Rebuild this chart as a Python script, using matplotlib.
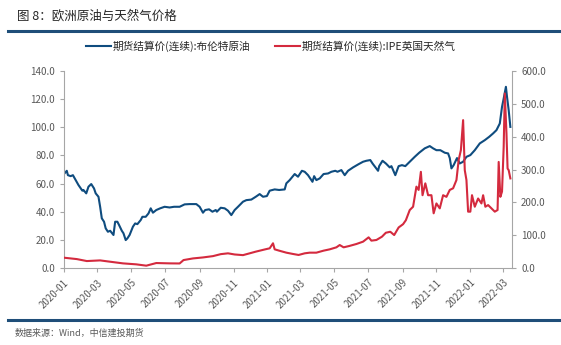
import matplotlib
matplotlib.use("Agg")
import matplotlib.pyplot as plt
import matplotlib.dates as mdates
from matplotlib.lines import Line2D
from matplotlib.ticker import FuncFormatter
import pandas as pd

plt.rcParams['font.family'] = ['Noto Sans CJK SC', 'DejaVu Sans']

# Brent futures settlement (USD/bbl), left axis
brent_dates = [
  "2020-01-02", "2020-01-06", "2020-01-08", "2020-01-13", "2020-01-17", "2020-01-22",
  "2020-01-27", "2020-02-03", "2020-02-05", "2020-02-10", "2020-02-14", "2020-02-19",
  "2020-02-24", "2020-02-27", "2020-03-03", "2020-03-06", "2020-03-09", "2020-03-13",
  "2020-03-16", "2020-03-20", "2020-03-24", "2020-03-30", "2020-04-02", "2020-04-06",
  "2020-04-09", "2020-04-14", "2020-04-17", "2020-04-21", "2020-04-24", "2020-04-28",
  "2020-05-04", "2020-05-08", "2020-05-12", "2020-05-18", "2020-05-21", "2020-05-27",
  "2020-06-01", "2020-06-05", "2020-06-09", "2020-06-15", "2020-06-22", "2020-06-30",
  "2020-07-09", "2020-07-17", "2020-07-27", "2020-08-05", "2020-08-14", "2020-08-26",
  "2020-09-01", "2020-09-07", "2020-09-11", "2020-09-18", "2020-09-24", "2020-09-30",
  "2020-10-02", "2020-10-09", "2020-10-16", "2020-10-22", "2020-10-28", "2020-11-03",
  "2020-11-09", "2020-11-18", "2020-11-24", "2020-12-03", "2020-12-11", "2020-12-18",
  "2020-12-24", "2020-12-31", "2021-01-05", "2021-01-14", "2021-01-22", "2021-02-01",
  "2021-02-04", "2021-02-10", "2021-02-19", "2021-02-25", "2021-03-04", "2021-03-09",
  "2021-03-15", "2021-03-23", "2021-03-26", "2021-03-30", "2021-04-05", "2021-04-12",
  "2021-04-20", "2021-04-26", "2021-05-03", "2021-05-07", "2021-05-14", "2021-05-20",
  "2021-05-26", "2021-06-04", "2021-06-14", "2021-06-22", "2021-06-28", "2021-07-05",
  "2021-07-09", "2021-07-19", "2021-07-21", "2021-07-27", "2021-08-02", "2021-08-09",
  "2021-08-12", "2021-08-19", "2021-08-25", "2021-08-31", "2021-09-06", "2021-09-14",
  "2021-09-23", "2021-10-01", "2021-10-11", "2021-10-20", "2021-10-26", "2021-11-01",
  "2021-11-08", "2021-11-16", "2021-11-22", "2021-11-25", "2021-11-28", "2021-12-02",
  "2021-12-08", "2021-12-13", "2021-12-19", "2021-12-25", "2022-01-01", "2022-01-09",
  "2022-01-18", "2022-01-27", "2022-02-04", "2022-02-11", "2022-02-17", "2022-02-23",
  "2022-02-27", "2022-03-02", "2022-03-06", "2022-03-08", "2022-03-11", "2022-03-14",
]
brent_values = [
  67.3, 69.1, 66.0, 65.3, 66.0, 62.5,
  59.0, 55.0, 55.5, 53.1, 57.8, 59.7,
  56.6, 53.1, 50.7, 43.6, 35.4, 33.0,
  28.3, 25.9, 26.6, 23.6, 33.0, 33.0,
  30.7, 26.6, 24.8, 20.0, 21.2, 23.6,
  29.5, 31.8, 31.3, 34.2, 36.5, 36.5,
  38.9, 42.5, 39.4, 41.3, 42.5, 43.6,
  43.1, 43.6, 43.6, 45.3, 45.5, 45.5,
  43.6, 39.4, 41.3, 41.8, 40.1, 41.3,
  40.1, 42.9, 42.5, 40.8, 37.7, 41.3,
  43.6, 47.2, 48.3, 48.7, 50.7, 52.6,
  50.7, 51.2, 55.0, 55.9, 55.5, 55.9,
  60.2, 62.5, 66.8, 64.9, 69.1, 68.4,
  66.0, 61.3, 65.3, 62.5, 63.7, 66.8,
  67.2, 68.4, 69.1, 68.4, 69.6, 66.0,
  69.1, 71.5, 73.8, 75.5, 76.2, 76.7,
  74.3, 69.1, 72.4, 76.2, 74.3, 71.5,
  72.4, 66.0, 72.4, 73.1, 72.4, 75.5,
  79.0, 81.9, 85.0, 86.6, 85.0, 83.7,
  83.7, 81.9, 81.4, 78.1, 70.8, 73.1,
  78.1, 74.3, 75.5, 79.0, 80.2, 83.7,
  88.5, 90.8, 93.2, 95.6, 97.9, 102.6,
  114.4, 120.3, 128.6, 121.5, 112.0, 100.2,
]

# IPE UK natural gas futures settlement, right axis
gas_dates = [
  "2020-01-02", "2020-01-24", "2020-02-11", "2020-03-06", "2020-03-24", "2020-04-16",
  "2020-05-10", "2020-05-28", "2020-06-15", "2020-07-09", "2020-07-27", "2020-08-03",
  "2020-08-20", "2020-09-07", "2020-09-25", "2020-10-09", "2020-10-22", "2020-11-03",
  "2020-11-18", "2020-11-30", "2020-12-11", "2020-12-28", "2021-01-05", "2021-01-11",
  "2021-01-14", "2021-01-22", "2021-02-04", "2021-02-16", "2021-02-26", "2021-03-09",
  "2021-03-18", "2021-03-30", "2021-04-12", "2021-04-23", "2021-05-05", "2021-05-11",
  "2021-05-18", "2021-05-28", "2021-06-10", "2021-06-22", "2021-07-02", "2021-07-07",
  "2021-07-16", "2021-07-26", "2021-08-02", "2021-08-10", "2021-08-17", "2021-08-25",
  "2021-09-02", "2021-09-07", "2021-09-14", "2021-09-20", "2021-09-26", "2021-09-30",
  "2021-10-04", "2021-10-07", "2021-10-12", "2021-10-17", "2021-10-23", "2021-10-27",
  "2021-11-01", "2021-11-07", "2021-11-13", "2021-11-19", "2021-11-25", "2021-12-01",
  "2021-12-07", "2021-12-11", "2021-12-15", "2021-12-19", "2021-12-22", "2021-12-25",
  "2021-12-28", "2022-01-01", "2022-01-04", "2022-01-09", "2022-01-15", "2022-01-21",
  "2022-01-24", "2022-01-28", "2022-02-02", "2022-02-08", "2022-02-14", "2022-02-19",
  "2022-02-21", "2022-02-24", "2022-02-27", "2022-03-02", "2022-03-04", "2022-03-07",
  "2022-03-09", "2022-03-11", "2022-03-14",
]
gas_values = [
  32, 28, 22, 24, 20, 15,
  12, 8, 16, 15, 14.7, 25,
  30, 33, 37, 43, 45.5, 42,
  40, 45.5, 50.6, 57.6, 60.7, 76,
  57.6, 53.6, 47.5, 43.5, 40.5, 45.5,
  47.5, 47.5, 53.6, 57.6, 63.7, 70.7,
  63.7, 67.7, 73.8, 80.9, 94, 84,
  86, 96, 108, 111, 101, 124,
  134, 146, 177, 187, 248, 238,
  293, 222, 258, 222, 222, 167,
  197, 182, 222, 217, 238, 243,
  268, 329, 359, 450, 298, 268,
  172, 172, 222, 187, 212, 197,
  222, 187, 192, 182, 172, 177,
  323, 217, 233, 369, 531, 410,
  303, 298, 273,
]

BLUE = "#0f4c7f"
RED = "#d42a3e"
GRAY_TXT = "#595959"
SPINE = "#a6a6a6"
NAVY = "#1f4e79"

fig = plt.figure(figsize=(5.61, 3.45), dpi=100)
ax = fig.add_axes([0.1141, 0.2223, 0.7986, 0.5727])
ax2 = ax.twinx()

ax.plot(pd.to_datetime(brent_dates), brent_values, color=BLUE, lw=1.5,
        label="期货结算价(连续):布伦特原油")
ax2.plot(pd.to_datetime(gas_dates), gas_values, color=RED, lw=1.5,
         label="期货结算价(连续):IPE英国天然气")

ax.set_xlim(pd.Timestamp("2020-01-01"), pd.Timestamp("2022-03-17"))
ax.set_ylim(0, 140)
ax2.set_ylim(0, 600)
ax.set_yticks(range(0, 141, 20))
ax2.set_yticks(range(0, 601, 100))
fmt = FuncFormatter(lambda v, p: f"{v:.1f}")
ax.yaxis.set_major_formatter(fmt)
ax2.yaxis.set_major_formatter(fmt)

ax.xaxis.set_major_locator(mdates.MonthLocator(bymonth=[1, 3, 5, 7, 9, 11]))
ax.xaxis.set_major_formatter(mdates.DateFormatter("%Y-%m"))
for lbl in ax.get_xticklabels():
  lbl.set_rotation(45)
  lbl.set_ha("right")
  lbl.set_rotation_mode("anchor")

for a in (ax, ax2):
  a.spines["top"].set_visible(False)
  for s in ("left", "right", "bottom"):
    a.spines[s].set_color(SPINE)
  a.tick_params(colors=SPINE, labelcolor=GRAY_TXT, labelsize=7, length=3, width=0.8)
ax.spines["right"].set_visible(False)
ax2.spines["left"].set_visible(False)
ax2.spines["bottom"].set_visible(False)

h1, l1 = ax.get_legend_handles_labels()
h2, l2 = ax2.get_legend_handles_labels()
fig.legend(h1 + h2, l1 + l2, loc="center", bbox_to_anchor=(0.483, 0.865), ncol=2,
           frameon=False, fontsize=7.7, handlelength=2.3, handletextpad=0.2,
           columnspacing=2.3, labelcolor="#262626")

# header / footer
fig.text(0.03, 0.953, "图 8：欧洲原油与天然气价格", fontsize=9, color="#262626", va="center")
fig.add_artist(Line2D([0.014, 1.0], [0.91, 0.91], color=NAVY, lw=2.2))
fig.add_artist(Line2D([0.014, 1.0], [0.072, 0.072], color=NAVY, lw=2.2))
fig.text(0.027, 0.035, "数据来源：Wind，中信建投期货", fontsize=6.5, color=GRAY_TXT,
         style="italic", va="center")

fig.savefig("out.png", dpi=100)
